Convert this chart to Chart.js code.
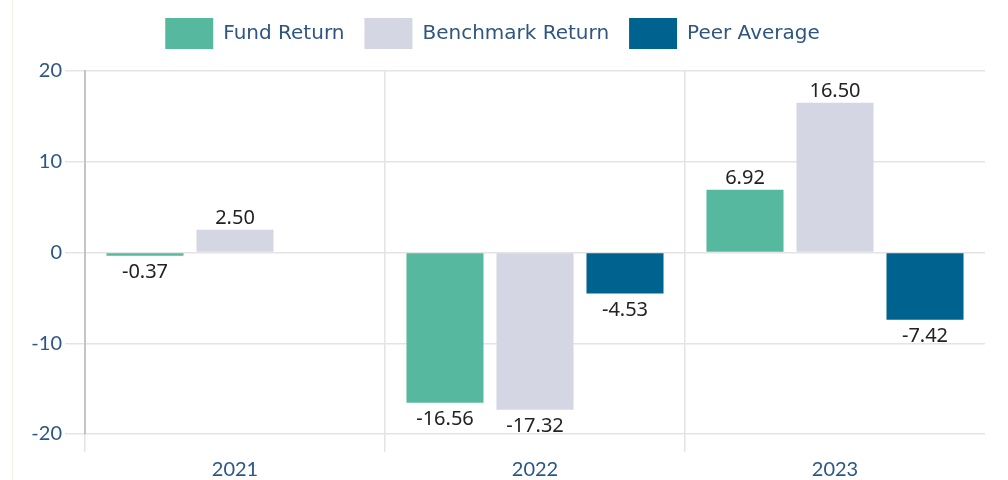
<!DOCTYPE html>
<html>
<head>
<meta charset="utf-8">
<title>Fund vs Benchmark vs Peer</title>
<script src="https://cdn.jsdelivr.net/npm/chart.js@4.4.1/dist/chart.umd.min.js"></script>
<style>
  html, body { margin: 0; padding: 0; background: #fff; overflow: hidden; }
  #wrap { position: relative; width: 1008px; height: 480px; }
  #edge { position: absolute; left: 12px; top: 0; width: 1px; height: 480px; background: #eef6e8; }
</style>
</head>
<body>
<div id="wrap">
  <div id="edge"></div>
  <canvas id="returnsChart"></canvas>
</div>
<script>
var YEARS = ['2021', '2022', '2023'];
var FUND_RETURN = [-0.37, -16.56, 6.92];
var BENCHMARK_RETURN = [2.50, -17.32, 16.50];
var PEER_AVERAGE = [null, -4.53, -7.42];
var Y_TICKS = [-20, -10, 0, 10, 20];

var TICK_COLOR = '#2b5784';
var GRID_COLOR = '#e4e4e4';

// 棒の上下に値を描く
var valueLabels = {
  id: 'valueLabels',
  afterDatasetsDraw: function(chart) {
    var ctx = chart.ctx;
    ctx.save();
    ctx.font = '20px "Noto Sans", sans-serif';
    ctx.fillStyle = '#222';
    ctx.textAlign = 'center';
    ctx.textBaseline = 'alphabetic';
    chart.data.datasets.forEach(function(ds, i) {
      var meta = chart.getDatasetMeta(i);
      if (meta.hidden) return;
      meta.data.forEach(function(bar, j) {
        var v = ds.data[j];
        if (v === null || v === undefined) return;
        var y = v >= 0 ? bar.y - 6 : bar.y + 22;
        ctx.fillText(v.toFixed(2), bar.x, y);
      });
    });
    ctx.restore();
  }
};

// 凡例の下に少し余白を足す
var legendGap = {
  id: 'legendGap',
  afterInit: function(chart) {
    var legend = chart.legend;
    if (!legend) return;
    var fit = legend.fit;
    legend.fit = function() {
      fit.call(this);
      this.height += 12;
    };
  }
};

new Chart(document.getElementById('returnsChart'), {
  type: 'bar',
  data: {
    labels: YEARS,
    datasets: [{
      label: 'Fund Return',
      data: FUND_RETURN,
      backgroundColor: '#57b8a0'
    }, {
      label: 'Benchmark Return',
      data: BENCHMARK_RETURN,
      backgroundColor: '#d4d7e3'
    }, {
      label: 'Peer Average',
      data: PEER_AVERAGE,
      backgroundColor: '#00628f'
    }]
  },
  options: {
    responsive: true,
    maintainAspectRatio: false,
    animation: false,
    layout: { padding: { left: 0, right: 23, top: -2, bottom: 0 } },
    datasets: {
      bar: {
        categoryPercentage: 0.9,
        barPercentage: 0.856,
        borderWidth: 0
      }
    },
    plugins: {
      tooltip: { enabled: false },
      legend: {
        position: 'top',
        labels: {
          boxWidth: 48,
          boxHeight: 31,
          padding: 20,
          color: '#2f5680',
          font: { family: '"DejaVu Sans", sans-serif', size: 20 }
        }
      }
    },
    scales: {
      x: {
        afterFit: function(scale) { scale.height = 46; },
        border: { display: false },
        grid: {
          color: function(c) { return c.type === 'tick' ? GRID_COLOR : 'rgba(0,0,0,0)'; },
          tickLength: 18,
          lineWidth: 1.5
        },
        ticks: {
          color: TICK_COLOR,
          padding: 6,
          font: { family: 'Lato, sans-serif', size: 20 }
        }
      },
      y: {
        min: -20,
        max: 20,
        afterFit: function(scale) { scale.width = 85; },
        afterBuildTicks: function(scale) {
          scale.ticks = Y_TICKS.map(function(v) { return { value: v }; });
        },
        border: { display: true, color: '#c4c4c4', width: 2 },
        grid: {
          color: GRID_COLOR,
          tickLength: 20,
          lineWidth: 1.5
        },
        ticks: {
          color: TICK_COLOR,
          padding: 3,
          font: { family: 'Lato, sans-serif', size: 20 }
        }
      }
    }
  },
  plugins: [valueLabels, legendGap]
});
</script>
</body>
</html>
